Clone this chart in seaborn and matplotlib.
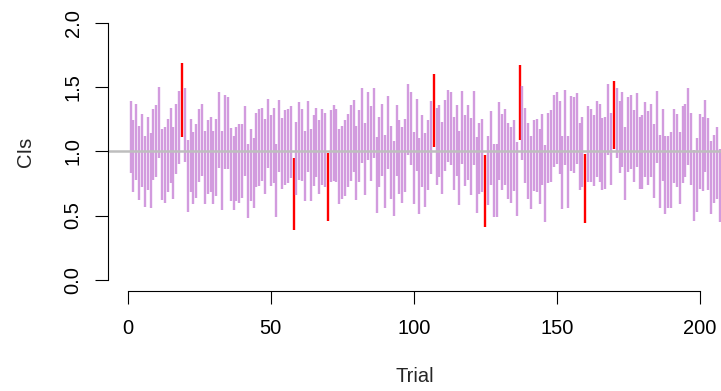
import numpy as np
import pandas as pd
import matplotlib
matplotlib.use("Agg")
import matplotlib.pyplot as plt
import seaborn as sns

# interval bounds, one pair per trial (trial 1..207)
lower = [0.83, 0.68, 0.78, 0.62, 0.72, 0.57, 0.70, 0.56, 0.78, 0.80,
         0.95, 0.62, 0.60, 0.68, 0.75, 0.63, 0.82, 0.90, 1.11, 0.92,
         0.53, 0.68, 0.59, 0.64, 0.76, 0.81, 0.59, 0.67, 0.68, 0.59,
         0.65, 0.87, 0.54, 0.86, 0.86, 0.61, 0.54, 0.61, 0.60, 0.64,
         0.81, 0.48, 0.61, 0.56, 0.72, 0.73, 0.77, 0.67, 0.87, 0.73,
         0.75, 0.49, 0.84, 0.71, 0.74, 0.75, 0.79, 0.39, 0.66, 0.78,
         0.77, 0.61, 0.84, 0.61, 0.73, 0.80, 0.67, 0.74, 0.72, 0.46,
         0.76, 0.77, 0.76, 0.59, 0.63, 0.65, 0.72, 0.77, 0.84, 0.62,
         0.76, 0.91, 0.66, 0.93, 0.77, 0.95, 0.52, 0.72, 0.81, 0.56,
         0.86, 0.63, 0.50, 0.81, 0.67, 0.60, 0.68, 0.97, 0.89, 0.59,
         0.85, 0.51, 0.72, 0.57, 0.70, 0.82, 1.03, 0.74, 0.80, 0.67,
         0.85, 0.92, 0.89, 0.70, 0.81, 0.58, 0.90, 0.73, 0.78, 0.66,
         0.89, 0.52, 0.67, 0.68, 0.41, 0.58, 0.74, 0.49, 0.49, 0.78,
         0.70, 0.74, 0.63, 0.60, 0.69, 0.50, 1.09, 0.93, 0.75, 0.63,
         0.55, 0.69, 0.68, 0.59, 0.74, 0.45, 0.75, 0.76, 0.88, 0.90,
         0.82, 0.55, 0.89, 0.56, 0.85, 0.83, 0.90, 0.70, 0.72, 0.44,
         0.76, 0.76, 0.73, 0.80, 0.76, 0.70, 0.71, 0.97, 0.74, 1.02,
         0.95, 0.83, 0.88, 0.62, 0.84, 0.86, 0.76, 0.88, 0.71, 0.71,
         0.80, 0.74, 0.80, 0.64, 0.91, 0.56, 0.77, 0.51, 0.56, 0.56,
         0.75, 0.72, 0.59, 0.75, 0.80, 0.89, 0.74, 0.46, 0.53, 0.71,
         0.69, 0.84, 0.70, 0.51, 0.60, 0.63, 0.45]
upper = [1.39, 1.24, 1.37, 1.20, 1.29, 1.12, 1.27, 1.14, 1.33, 1.36,
         1.50, 1.17, 1.19, 1.25, 1.34, 1.19, 1.37, 1.47, 1.69, 1.49,
         1.09, 1.25, 1.15, 1.21, 1.33, 1.37, 1.16, 1.24, 1.27, 1.16,
         1.25, 1.46, 1.16, 1.44, 1.42, 1.18, 1.12, 1.19, 1.21, 1.21,
         1.35, 1.06, 1.17, 1.10, 1.30, 1.33, 1.34, 1.25, 1.41, 1.28,
         1.34, 1.06, 1.40, 1.26, 1.32, 1.33, 1.35, 0.95, 1.23, 1.38,
         1.33, 1.16, 1.39, 1.17, 1.28, 1.34, 1.24, 1.33, 1.30, 0.99,
         1.32, 1.36, 1.33, 1.17, 1.20, 1.24, 1.29, 1.36, 1.40, 1.20,
         1.32, 1.49, 1.22, 1.46, 1.35, 1.49, 1.11, 1.27, 1.37, 1.13,
         1.43, 1.20, 1.08, 1.36, 1.24, 1.19, 1.25, 1.52, 1.46, 1.15,
         1.41, 1.10, 1.28, 1.14, 1.24, 1.39, 1.60, 1.34, 1.36, 1.23,
         1.40, 1.48, 1.46, 1.27, 1.36, 1.16, 1.47, 1.28, 1.36, 1.26,
         1.47, 1.11, 1.22, 1.25, 0.97, 1.12, 1.31, 1.06, 1.06, 1.38,
         1.29, 1.33, 1.22, 1.19, 1.24, 1.07, 1.67, 1.51, 1.34, 1.22,
         1.12, 1.24, 1.25, 1.17, 1.29, 1.05, 1.30, 1.32, 1.44, 1.46,
         1.39, 1.12, 1.48, 1.12, 1.43, 1.42, 1.45, 1.22, 1.27, 0.98,
         1.35, 1.33, 1.28, 1.39, 1.37, 1.26, 1.27, 1.52, 1.30, 1.55,
         1.49, 1.39, 1.46, 1.19, 1.42, 1.44, 1.32, 1.45, 1.27, 1.28,
         1.38, 1.31, 1.37, 1.21, 1.47, 1.13, 1.33, 1.12, 1.12, 1.15,
         1.33, 1.29, 1.15, 1.35, 1.37, 1.49, 1.30, 1.01, 1.10, 1.29,
         1.27, 1.40, 1.26, 1.08, 1.13, 1.19, 1.02]
trials = list(range(1, len(lower) + 1))
true_value = 1.0

x_ticks = [0, 50, 100, 150, 200]
y_ticks = [0.0, 0.5, 1.0, 1.5, 2.0]
y_tick_labels = ["0.0", "0.5", "1.0", "1.5", "2.0"]

# long form: two rows per trial, the line between them is the interval
df = pd.DataFrame({"trial": trials, "lower": lower, "upper": upper})
df["covers"] = (df["lower"] <= true_value) & (df["upper"] >= true_value)
long = df.melt(id_vars=["trial", "covers"], value_vars=["lower", "upper"],
               value_name="ci")

sns.set_style("ticks")
plt.rcParams["font.family"] = ["Liberation Sans", "DejaVu Sans"]
plt.rcParams["lines.solid_capstyle"] = "butt"

fig = plt.figure(figsize=(7.21, 3.91), dpi=100)
ax = fig.add_axes([108.3 / 721, 100.3 / 391, 612.7 / 721, 278.3 / 391])

sns.lineplot(data=long, x="trial", y="ci", units="trial", estimator=None,
             hue="covers", palette={True: "#D29BDE", False: "#FF0000"},
             linewidth=1.7, legend=False, ax=ax)
ax.axhline(true_value, color="#BEBEBE", linewidth=1.8)

ax.set_xlim(-6.78, 207.45)
ax.set_ylim(-0.085, 2.08)
ax.set_xticks(x_ticks)
ax.set_yticks(y_ticks)
ax.set_yticklabels(y_tick_labels, rotation=90, va="center")

for s in ["top", "right"]:
    ax.spines[s].set_visible(False)
ax.spines["left"].set_bounds(0, 2)
ax.spines["bottom"].set_bounds(0, 200)
for s in ["left", "bottom"]:
    ax.spines[s].set_linewidth(0.8)
    ax.spines[s].set_color("black")

ax.tick_params(axis="both", length=9.4, width=0.8, color="black",
               labelsize=14.5, labelcolor="black")
ax.tick_params(axis="x", pad=11)
ax.tick_params(axis="y", pad=9)
ax.set_xlabel("Trial", fontsize=14.5, labelpad=20.5)
ax.set_ylabel("CIs", fontsize=14.5, labelpad=20.5)
ax.grid(False)

fig.savefig("out.png", dpi=100)
